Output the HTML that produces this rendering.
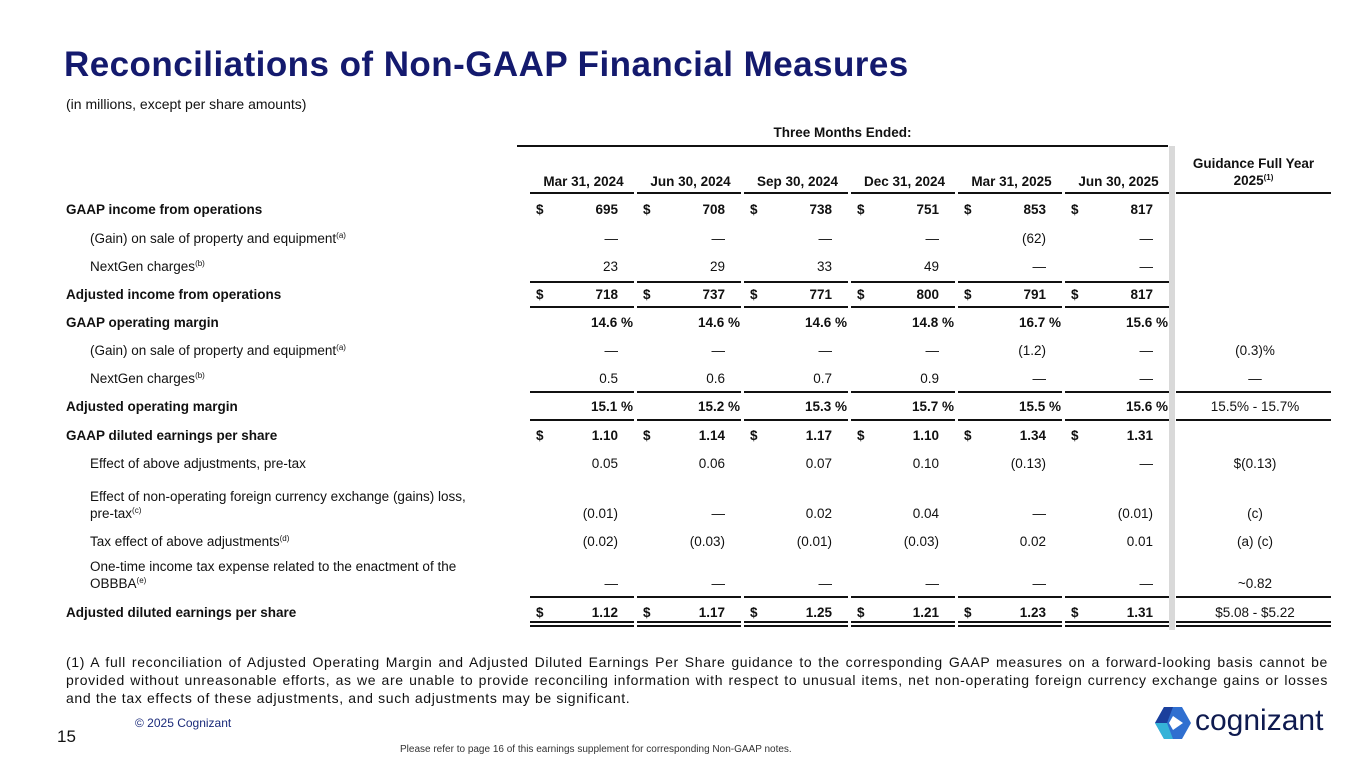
<!DOCTYPE html>
<html><head><meta charset="utf-8"><style>
body{margin:0;width:1365px;height:768px;background:#fff;position:relative;overflow:hidden;font-family:"Liberation Sans",sans-serif;color:#111;}
.a{position:absolute;white-space:nowrap;font-size:13.5px;line-height:16px;}
.b{font-weight:bold;}
.ln{position:absolute;background:#111;height:2px;}
sup{font-size:8px;vertical-align:5px;line-height:0;}
</style></head><body>
<div class="a b" style="left:64px;top:44px;font-size:35px;line-height:42px;color:#141a6e;letter-spacing:0.45px;">Reconciliations of Non-GAAP Financial Measures</div>
<div class="a" style="left:66px;top:96px;font-size:14px;">(in millions, except per share amounts)</div>
<div class="a b" style="left:517px;width:651px;text-align:center;top:125px;">Three Months Ended:</div>
<div class="ln" style="left:517px;width:651px;top:145px;"></div>
<div style="position:absolute;left:1169px;width:6px;top:146px;height:484px;background:#d9d9d9;"></div>
<div class="a b" style="left:1176px;width:155px;text-align:center;top:155px;line-height:17px;">Guidance Full Year<br>2025<sup>(1)</sup></div>
<div id="t"></div>
<div class="a" style="left:66px;top:653px;width:1262px;white-space:normal;text-align:justify;font-size:14px;letter-spacing:0.65px;line-height:18px;">(1) A full reconciliation of Adjusted Operating Margin and Adjusted Diluted Earnings Per Share guidance to the corresponding GAAP measures on a forward-looking basis cannot be provided without unreasonable efforts, as we are unable to provide reconciling information with respect to unusual items, net non-operating foreign currency exchange gains or losses and the tax effects of these adjustments, and such adjustments may be significant.</div>
<div class="a" style="left:135px;top:715px;font-size:12px;color:#1a2a7a;">© 2025 Cognizant</div>
<div class="a" style="left:57px;top:727px;font-size:17px;line-height:20px;">15</div>
<div class="a" style="left:400px;top:742px;font-size:10px;color:#333;">Please refer to page 16 of this earnings supplement for corresponding Non-GAAP notes.</div>
<div style="position:absolute;left:1155px;top:706px;">
<svg width="36" height="34" viewBox="0 0 36 34"><polygon points="9,1 27,1 36,17 27,33 9,33 0,17" fill="#2f6fd0"/><polygon points="0,17 9,1 18,1 12,17" fill="#1b3f9c"/><polygon points="0,17 12,17 18,33 9,33" fill="#35b3d8"/><polygon points="18,10 28,17 18,24 14,17" fill="#fff"/></svg>
<span class="a" style="left:40px;top:-2px;font-size:30px;line-height:34px;color:#0e1a4f;">cognizant</span></div>
<script>
var colStart=[533,640,747,854,961,1068];
var colW=101;
var dates=["Mar 31, 2024","Jun 30, 2024","Sep 30, 2024","Dec 31, 2024","Mar 31, 2025","Jun 30, 2025"];
var labels=["GAAP income from operations","(Gain) on sale of property and equipment<sup>(a)</sup>","NextGen charges<sup>(b)</sup>","Adjusted income from operations","GAAP operating margin","(Gain) on sale of property and equipment<sup>(a)</sup>","NextGen charges<sup>(b)</sup>","Adjusted operating margin","GAAP diluted earnings per share","Effect of above adjustments, pre-tax","Effect of non-operating foreign currency exchange (gains) loss,<br>pre-tax<sup>(c)</sup>","Tax effect of above adjustments<sup>(d)</sup>","One-time income tax expense related to the enactment of the<br>OBBBA<sup>(e)</sup>","Adjusted diluted earnings per share"];
var rowY=[210,239,267,295,323,351,379,407,436,464,514,542,584,613];
var boldRow=[1,0,0,1,1,0,0,1,1,0,0,0,0,1];
var dollarRow=[1,0,0,1,0,0,0,0,1,0,0,0,0,1];
var pctRow=[0,0,0,0,1,0,0,1,0,0,0,0,0,0];
var values=[
["695","708","738","751","853","817"],
["—","—","—","—","(62)","—"],
["23","29","33","49","—","—"],
["718","737","771","800","791","817"],
["14.6","14.6","14.6","14.8","16.7","15.6"],
["—","—","—","—","(1.2)","—"],
["0.5","0.6","0.7","0.9","—","—"],
["15.1","15.2","15.3","15.7","15.5","15.6"],
["1.10","1.14","1.17","1.10","1.34","1.31"],
["0.05","0.06","0.07","0.10","(0.13)","—"],
["(0.01)","—","0.02","0.04","—","(0.01)"],
["(0.02)","(0.03)","(0.01)","(0.03)","0.02","0.01"],
["—","—","—","—","—","—"],
["1.12","1.17","1.25","1.21","1.23","1.31"]];
var guidance=["","","","","","(0.3)%","—","15.5% - 15.7%","","$(0.13)","(c)","(a) (c)","~0.82","$5.08 - $5.22"];
var t=document.getElementById('t');
function add(cls,html,style){var d=document.createElement('div');d.className=cls;d.innerHTML=html;d.style.cssText=style;t.appendChild(d);return d;}
function rule(x,w,y,nm){
  var d=add('ln','', 'left:'+x+'px;width:'+w+'px;top:'+y+'px;');
  
  
}
for(var c=0;c<6;c++){
  var h=add('a',dates[c],'left:'+colStart[c]+'px;width:'+colW+'px;text-align:center;top:174px;font-weight:bold;');
  
  
  rule(colStart[c]-3,colW+3,192,'column-header-rule');
}
rule(1176,155,192,'guidance-header-rule');
for(var r=0;r<labels.length;r++){
  var two=labels[r].indexOf('<br>')>=0;
  var ly=two?rowY[r]-26:rowY[r]-8;
  var lx=(boldRow[r]?66:90);
  var l=add('a'+(boldRow[r]?' b':''),labels[r],'left:'+lx+'px;top:'+ly+'px;line-height:'+(two?'17px':'16px')+';');
  
  
  for(var c=0;c<6;c++){
    var x=colStart[c];
    if(dollarRow[r]){
      var s=add('a b','$','left:'+(x+3)+'px;top:'+(rowY[r]-8)+'px;');
      
      
    }
    var txt=values[r][c];
    var endX=x+colW-(pctRow[r]?1:16);
    if(pctRow[r]) txt=txt+' %';
    var v=add('a'+(boldRow[r]?' b':''),txt,'left:'+(endX-100)+'px;width:100px;text-align:right;top:'+(rowY[r]-8)+'px;');
    
    
  }
  if(guidance[r]){
    var g=add('a',guidance[r],'left:1176px;width:158px;text-align:center;top:'+(rowY[r]-8)+'px;');
    
    
  }
}
var underRows=[[281,0],[306,0],[391,1],[419,1],[596,1]];
for(var i=0;i<underRows.length;i++){
  for(var c=0;c<6;c++) rule(colStart[c]-3,colW+3,underRows[i][0],'row-rule');
  if(underRows[i][1]) rule(1176,155,underRows[i][0],'guidance-row-rule');
}
for(var c=0;c<6;c++){rule(colStart[c]-3,colW+3,621,'double-rule-top');rule(colStart[c]-3,colW+3,625,'double-rule-bottom');}
rule(1176,155,621,'guidance-double-rule-top');rule(1176,155,625,'guidance-double-rule-bottom');
</script>
</body></html>
